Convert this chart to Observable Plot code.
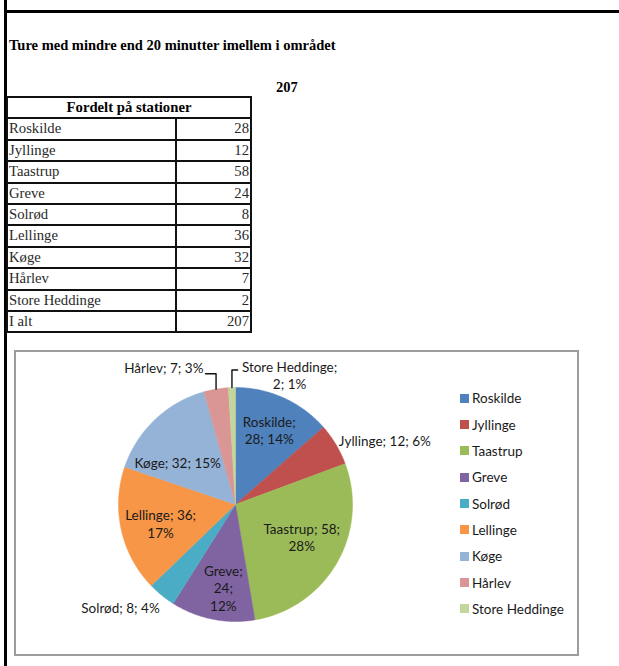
<!DOCTYPE html>
<html><head><meta charset="utf-8">
<script src="https://cdn.jsdelivr.net/npm/d3@7"></script>
<script src="https://cdn.jsdelivr.net/npm/@observablehq/plot@0.6"></script>
<style>
html,body{margin:0;padding:0;background:#fff;}
#page{position:relative;width:619px;height:666px;overflow:hidden;background:#fff;}
.serif{font-family:"Liberation Serif","Times New Roman",serif;}
#vline{position:absolute;left:4px;top:0;width:3px;height:666px;background:#000;}
#hline{position:absolute;left:4px;top:10px;width:615px;height:3px;background:#000;}
#title{position:absolute;left:9px;top:37px;font-size:14.5px;font-weight:bold;line-height:16px;white-space:nowrap;color:#000;}
#total{position:absolute;left:276px;top:79px;font-size:14.5px;font-weight:bold;line-height:16px;color:#000;}
#tbl{position:absolute;left:6px;top:96px;border-collapse:collapse;width:244px;font-size:14.7px;color:#2a2a2a;table-layout:fixed;}
#tbl td,#tbl th{border:2px solid #111;padding:0 1px 0 1px;height:19.4px;line-height:19.4px;white-space:nowrap;}
#tbl th{font-weight:bold;color:#000;text-align:center;}
#tbl td.v{text-align:right;}
#box{position:absolute;left:14px;top:350px;width:565px;height:306px;box-sizing:border-box;border:2px solid #9c9c9c;}
#chart{position:absolute;left:15px;top:351px;}
#legend{position:absolute;left:460px;top:385px;font-family:Lato,"Open Sans",sans-serif;font-size:13.5px;color:#1a1a1a;}
.li{height:26.35px;display:flex;align-items:center;white-space:nowrap;}
.sw{width:9px;height:9px;margin-right:3px;flex:none;}
</style></head>
<body><div id="page">
<div id="vline"></div><div id="hline"></div>
<div id="title" class="serif"></div>
<div id="total" class="serif"></div>
<table id="tbl" class="serif"><colgroup><col style="width:169px"><col style="width:75px"></colgroup><tbody></tbody></table>
<div id="box"></div>
<div id="chart"></div>
<div id="legend"></div>
</div>
<script>
// ---- data ----
const chartTitle = "Ture med mindre end 20 minutter imellem i området";
const tableTitle = "Fordelt på stationer";
const totalLabel = "I alt";
const stations = ["Roskilde","Jyllinge","Taastrup","Greve","Solrød","Lellinge","Køge","Hårlev","Store Heddinge"];
const counts = [28,12,58,24,8,36,32,7,2];

// ---- styles / layout ----
const palette = ["#4F81BD","#C0504D","#9BBB59","#8064A2","#4BACC6","#F79646","#95B3D7","#D99694","#C3D69B"];
const R_PX = 117; // pie radius in pixels
// r: radial factor, da: angle shift (deg), lines: how label parts wrap, leader: [dx, dy] px of leader end from label anchor
const labelLayout = {
  "Roskilde":       {r:0.70, da:0,    lines:[[0],[1,2]],   anchor:"middle"},
  "Jyllinge":       {r:1.04, da:-1,   lines:[[0,1,2]],     anchor:"start"},
  "Taastrup":       {r:0.63, da:-4,   lines:[[0,1],[2]],   anchor:"middle"},
  "Greve":          {r:0.72, da:-3,   lines:[[0],[1],[2]], anchor:"middle"},
  "Solrød":         {r:1.09, da:-2.7, lines:[[0,1,2]],     anchor:"end"},
  "Lellinge":       {r:0.66, da:-1.5, lines:[[0,1],[2]],   anchor:"middle"},
  "Køge":           {r:0.61, da:-10.6,lines:[[0,1,2]],     anchor:"middle"},
  "Hårlev":         {r:1.20, da:-3.6, lines:[[0,1,2]],     anchor:"end",    leader:[2, 6]},
  "Store Heddinge": {r:1.20, da:24.4, lines:[[0],[1,2]],   anchor:"middle", leader:[-52, -5]}
};

const total = d3.sum(counts);
document.getElementById("title").textContent = chartTitle;
document.getElementById("total").textContent = total;

// table
const tb = d3.select("#tbl tbody");
tb.append("tr").append("th").attr("colspan", 2).text(tableTitle);
stations.forEach((s, i) => {
  const tr = tb.append("tr");
  tr.append("td").text(s);
  tr.append("td").attr("class", "v").text(counts[i]);
});
const trt = tb.append("tr");
trt.append("td").text(totalLabel);
trt.append("td").attr("class", "v").text(total);

// pie geometry
const toRad = Math.PI / 180;
let acc = 0;
const slices = stations.map((name, i) => {
  const a0 = acc / total * 360; acc += counts[i]; const a1 = acc / total * 360;
  return {name, value: counts[i], a0, a1, mid: (a0 + a1) / 2, pct: Math.round(counts[i] / total * 100)};
});
const piePts = [];
for (const s of slices) {
  piePts.push({name: s.name, x: 0, y: 0});
  const n = Math.max(2, Math.ceil(s.a1 - s.a0));
  for (let k = 0; k <= n; k++) {
    const a = (s.a0 + (s.a1 - s.a0) * k / n) * toRad;
    piePts.push({name: s.name, x: Math.sin(a), y: Math.cos(a)});
  }
  piePts.push({name: s.name, x: 0, y: 0});
}

const labels = slices.map(s => {
  const L = labelLayout[s.name];
  const parts = [s.name + ";", s.value + ";", s.pct + "%"];
  const text = L.lines.map(g => g.map(j => parts[j]).join(" ")).join("\n");
  const a = (s.mid + L.da) * toRad;
  return {name: s.name, text, x: L.r * Math.sin(a), y: L.r * Math.cos(a), anchor: L.anchor, s, L};
});
const leaderPts = [];
for (const l of labels) {
  if (!l.L.leader) continue;
  const a = l.s.mid * toRad;
  const ex = Math.sin(a), ey = Math.cos(a);
  const lx = l.x + l.L.leader[0] / R_PX, ly = l.y - l.L.leader[1] / R_PX;
  leaderPts.push({name: l.name, x: ex, y: ey}, {name: l.name, x: ex, y: ly}, {name: l.name, x: lx, y: ly});
}

const textOpts = {x: "x", y: "y", text: "text", fontSize: 13.5, fontFamily: "Lato, 'Open Sans', sans-serif", fill: "#1a1a1a", lineHeight: 1.3};
const chart = Plot.plot({
  width: 474, height: 304,
  marginLeft: 103, marginRight: 137, marginTop: 36, marginBottom: 34,
  x: {domain: [-1, 1], axis: null},
  y: {domain: [-1, 1], axis: null},
  color: {domain: stations, range: palette},
  style: {background: "transparent", overflow: "visible"},
  marks: [
    Plot.line(piePts, {x: "x", y: "y", z: "name", fill: "name", stroke: "name", strokeWidth: 0.5}),
    Plot.line(leaderPts, {x: "x", y: "y", z: "name", stroke: "#111", strokeWidth: 1.4}),
    Plot.text(labels.filter(d => d.anchor === "middle"), {...textOpts, textAnchor: "middle"}),
    Plot.text(labels.filter(d => d.anchor === "start"), {...textOpts, textAnchor: "start"}),
    Plot.text(labels.filter(d => d.anchor === "end"), {...textOpts, textAnchor: "end"})
  ]
});
document.getElementById("chart").appendChild(chart);

// legend
const lg = d3.select("#legend");
stations.forEach((s, i) => {
  const it = lg.append("div").attr("class", "li");
  it.append("div").attr("class", "sw").style("background", palette[i]);
  it.append("span").text(s);
});
</script>
</body></html>
